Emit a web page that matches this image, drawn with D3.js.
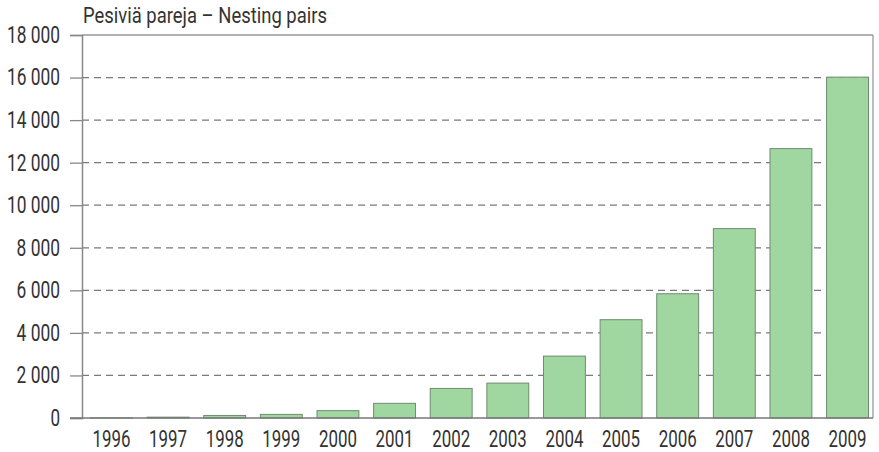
<!DOCTYPE html>
<html>
<head>
<meta charset="utf-8">
<script src="https://cdn.jsdelivr.net/npm/d3@7"></script>
<style>
  html, body { margin: 0; padding: 0; background: #fff; }
  svg { display: block; }
  text { font-family: Roboto, sans-serif; fill: #333; }
</style>
</head>
<body>
<script>
const years = ["1996","1997","1998","1999","2000","2001","2002","2003","2004","2005","2006","2007","2008","2009"];
const pairs = [5, 40, 120, 170, 345, 690, 1390, 1640, 2910, 4620, 5840, 8900, 12660, 16020];
const yTicks = [0, 2000, 4000, 6000, 8000, 10000, 12000, 14000, 16000, 18000];
const title = "Pesiviä pareja – Nesting pairs";

const W = 879, H = 452;
const mLeft = 82, mRight = 873, mTop = 35, mBottom = 418;
const FONT = "Roboto, sans-serif";

const svg = d3.select("body").append("svg").attr("width", W).attr("height", H);

const x = d3.scaleBand().domain(years).range([mLeft, 877]).paddingInner(0.26).paddingOuter(0.15);
const y = d3.scaleLinear().domain([0, 18000]).range([mBottom, mTop]);

const fmt = v => d3.format(",")(v).replace(/,/g, " ");
// condensed look: fixed widths per label
const labelLen = s => s.replace(/ /g, "").length * 9.6 + (s.split(" ").length - 1) * 5;

// gridlines (dashed)
svg.append("g").selectAll("line").data(yTicks.filter(t => t > 0 && t < 18000)).join("line")
  .attr("x1", mLeft).attr("x2", mRight)
  .attr("y1", d => y(d)).attr("y2", d => y(d))
  .attr("stroke", "#7a7a7a").attr("stroke-width", 1.2).attr("stroke-dasharray", "7,5");

// top and right frame
svg.append("line").attr("x1", mLeft).attr("x2", mRight).attr("y1", y(18000)).attr("y2", y(18000))
  .attr("stroke", "#999").attr("stroke-width", 1.3);
svg.append("line").attr("x1", mRight).attr("x2", mRight).attr("y1", mTop).attr("y2", mBottom)
  .attr("stroke", "#999").attr("stroke-width", 1.3);

// bars
svg.append("g").selectAll("rect").data(years).join("rect")
  .attr("x", d => x(d)).attr("width", x.bandwidth())
  .attr("y", (d, i) => y(pairs[i])).attr("height", (d, i) => mBottom - y(pairs[i]))
  .attr("fill", "#a0d6a0").attr("stroke", "#6e8c6e").attr("stroke-width", 1);

// y axis
const yAxis = d3.axisLeft(y).tickValues(yTicks).tickSize(12).tickPadding(10).tickFormat(fmt);
const gy = svg.append("g").attr("transform", `translate(${mLeft},0)`).call(yAxis);
gy.select(".domain").attr("stroke", "#888").attr("stroke-width", 1.5);
gy.selectAll(".tick line").attr("stroke", "#888").attr("stroke-width", 1.3);
gy.selectAll(".tick text")
  .style("font-family", FONT).style("font-size", "23px").attr("fill", "#333")
  .attr("textLength", d => labelLen(fmt(d))).attr("lengthAdjust", "spacingAndGlyphs");

// x axis
const xAxis = d3.axisBottom(x).tickSize(0).tickPadding(13);
const gx = svg.append("g").attr("transform", `translate(0,${mBottom})`).call(xAxis);
gx.select(".domain").remove();
gx.selectAll(".tick text")
  .style("font-family", FONT).style("font-size", "23px").attr("fill", "#333")
  .attr("textLength", 38).attr("lengthAdjust", "spacingAndGlyphs");
svg.append("line").attr("x1", mLeft - 12).attr("x2", mRight).attr("y1", mBottom).attr("y2", mBottom)
  .attr("stroke", "#777").attr("stroke-width", 1.5);

// title
svg.append("text").attr("x", 83).attr("y", 23)
  .style("font-family", FONT).style("font-size", "22px")
  .attr("textLength", 244).attr("lengthAdjust", "spacingAndGlyphs").text(title);
</script>
</body>
</html>
